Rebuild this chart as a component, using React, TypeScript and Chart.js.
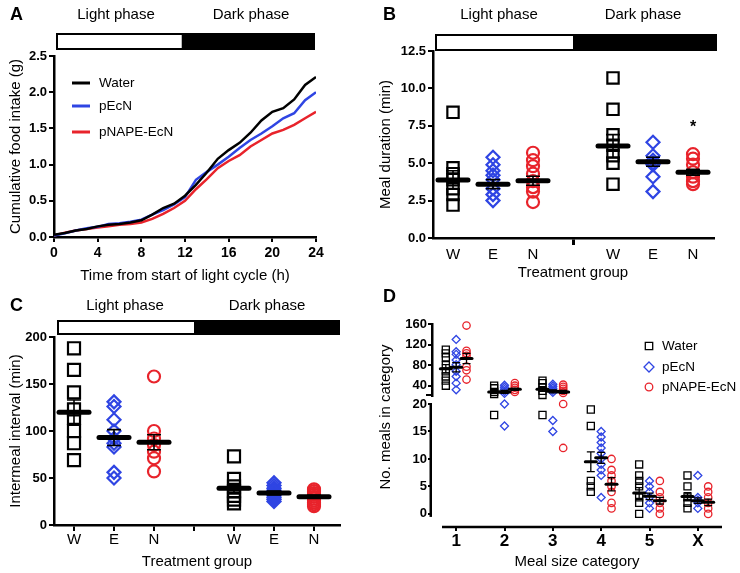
import React, { useEffect, useRef } from 'react';
import { Chart, registerables } from 'chart.js';

Chart.register(...registerables);

const FONT = "'Liberation Sans', Arial, Helvetica, sans-serif";
const BLACK = '#000000';
const BLUE = '#2f45e3';
const RED = '#e8232b';
const CLEAR = 'rgba(0,0,0,0)';

// ---------- Panel A: cumulative food intake ----------
const hours = [0, 1, 2, 3, 4, 5, 6, 7, 8, 9, 10, 11, 12, 13, 14, 15, 16, 17, 18, 19, 20, 21, 22, 23, 24];
const cumWater = [0.03, 0.055, 0.09, 0.11, 0.147, 0.17, 0.18, 0.2, 0.23, 0.31, 0.4, 0.46, 0.57, 0.72, 0.89, 1.08, 1.2, 1.3, 1.44, 1.61, 1.73, 1.78, 1.9, 2.1, 2.21];
const cumPEcN = [0.02, 0.05, 0.09, 0.12, 0.14, 0.18, 0.19, 0.21, 0.24, 0.31, 0.37, 0.45, 0.55, 0.79, 0.9, 1.0, 1.11, 1.23, 1.34, 1.43, 1.53, 1.64, 1.71, 1.89, 2.0];
const cumPNAPE = [0.02, 0.06, 0.09, 0.11, 0.13, 0.15, 0.17, 0.18, 0.2, 0.25, 0.32, 0.4, 0.5, 0.66, 0.8, 0.95, 1.05, 1.13, 1.25, 1.34, 1.43, 1.48, 1.55, 1.64, 1.73];
const seriesNames = ['Water', 'pEcN', 'pNAPE-EcN'];
const xTicksA = [0, 4, 8, 12, 16, 20, 24];
const yTicksA = [0, 0.5, 1, 1.5, 2, 2.5];
const lightEndA = 11.7;

// ---------- Panels B & C: groups ----------
const groupLabels = ['W', 'E', 'N', '', 'W', 'E', 'N'];
const groupSlots = [0, 1, 2, 4, 5, 6];

const durationLightWater = [8.4, 4.7, 4.3, 3.9, 3.3, 2.9, 2.2];
const durationLightPEcN = [5.4, 4.9, 4.5, 4.2, 3.9, 3.3, 2.9, 2.5];
const durationLightPNAPE = [5.7, 5.2, 4.8, 4.3, 3.8, 3.4, 3.1, 2.4];
const durationDarkWater = [10.7, 8.6, 6.9, 6.2, 5.5, 5.0, 3.6];
const durationDarkPEcN = [6.4, 5.5, 5.2, 5.0, 4.9, 4.1, 3.1];
const durationDarkPNAPE = [5.6, 5.3, 4.9, 4.4, 4.1, 3.8, 3.6];
const durationMean = [3.88, 3.6, 3.83, 6.15, 5.1, 4.4];
const durationSem = [0.62, 0.3, 0.3, 0.76, 0.3, 0.2];
const durationTicks = [0, 2.5, 5, 7.5, 10, 12.5];
const starValue = 7.5;

const intervalLightWater = [188, 165, 141, 123, 114, 100, 87, 69];
const intervalLightPEcN = [131, 126, 112, 100, 92, 87, 83, 56, 50];
const intervalLightPNAPE = [158, 100, 92, 85, 78, 71, 57];
const intervalDarkWater = [73, 49, 41, 36, 31, 27, 23];
const intervalDarkPEcN = [45, 42, 39, 37, 35, 33, 31, 29, 27, 25];
const intervalDarkPNAPE = [38, 36, 34, 32, 30, 28, 26, 24, 22, 20];
const intervalMean = [120, 93, 88, 39, 34, 30];
const intervalSem = [13, 8.5, 8, 5, 2, 1.5];
const intervalTicks = [0, 50, 100, 150, 200];

// ---------- Panel D: meals per size category ----------
const mealCats = ['1', '2', '3', '4', '5', 'X'];
const mealsWater = [
  [110, 103, 95, 80, 68, 58, 50, 40],
  [40, 35, 28, 24, 18],
  [50, 45, 37, 30, 22, 18],
  [19, 16, 6, 5, 4],
  [9, 7, 6, 5, 3, 2, 0],
  [7, 5, 3, 2, 1],
];
const mealsPEcN = [
  [130, 106, 101, 90, 81, 68, 58, 45, 32],
  [41, 37, 33, 29, 25, 20, 16],
  [43, 39, 35, 31, 27, 17, 15],
  [15, 14, 13, 12, 11, 10, 9, 8, 7, 3],
  [6, 5, 4, 3, 2, 1],
  [7, 3, 2.5, 2, 1],
];
const mealsPNAPE = [
  [157, 108, 103, 98, 77, 70, 52],
  [45, 40, 36, 32, 28],
  [42, 38, 34, 30, 26, 20, 12],
  [10, 8, 7, 6, 5, 4, 2, 1],
  [6, 4, 3, 2, 1, 0],
  [5, 4, 3, 2, 1, 0],
];
const mealsMeanWater = [73, 28, 33, 9.5, 3.8, 3.15];
const mealsMeanPEcN = [76, 28, 29, 10.2, 3.2, 2.4];
const mealsMeanPNAPE = [93, 33, 28, 5.4, 2.4, 2.1];
const mealsSemWater = [8, 3, 4, 1.8, 1, 0.7];
const mealsSemPEcN = [9, 3, 3, 1, 0.6, 0.5];
const mealsSemPNAPE = [10, 2, 3, 1.2, 0.6, 0.6];
const mealsBreak = 20;
const mealsTicksTop = [40, 80, 120, 160];
const mealsTicksBottom = [0, 5, 10, 15, 20];

// ---------- helpers ----------
const seriesStyle = [
  { style: 'rect', color: BLACK },
  { style: 'rectRot', color: BLUE },
  { style: 'circle', color: RED },
];

function drawText(ctx: any, s: string, x: number, y: number, size: number, weight = 'normal', align = 'center', color = BLACK) {
  ctx.save();
  ctx.font = `${weight} ${size}px ${FONT}`;
  ctx.fillStyle = color;
  ctx.textAlign = align;
  ctx.textBaseline = 'middle';
  ctx.fillText(s, x, y);
  ctx.restore();
}

function phaseBar(ctx: any, x0: number, xm: number, x1: number, y0: number, y1: number) {
  ctx.save();
  ctx.fillStyle = BLACK;
  ctx.fillRect(x0, y0, x1 - x0, y1 - y0);
  ctx.fillStyle = '#ffffff';
  ctx.fillRect(x0 + 2, y0 + 2, xm - x0 - 2, y1 - y0 - 4);
  ctx.restore();
}

function meanSem(chart: any, xs: number[], means: number[], sems: number[], halfW: number, thick: number, capW: number, lw: number, lo = -Infinity, hi = Infinity) {
  const ctx = chart.ctx;
  const xS = chart.scales.x;
  const yS = chart.scales.y;
  ctx.save();
  ctx.strokeStyle = BLACK;
  xs.forEach((xv, i) => {
    if (means[i] <= lo || means[i] > hi) return;
    const px = xS.getPixelForValue(xv);
    const py = yS.getPixelForValue(means[i]);
    const pt = yS.getPixelForValue(means[i] + sems[i]);
    const pb = yS.getPixelForValue(means[i] - sems[i]);
    ctx.lineWidth = lw;
    ctx.lineCap = 'butt';
    ctx.beginPath();
    ctx.moveTo(px, pt); ctx.lineTo(px, pb);
    ctx.moveTo(px - capW, pt); ctx.lineTo(px + capW, pt);
    ctx.moveTo(px - capW, pb); ctx.lineTo(px + capW, pb);
    ctx.stroke();
    ctx.lineWidth = thick;
    ctx.lineCap = 'round';
    ctx.beginPath();
    ctx.moveTo(px - halfW, py); ctx.lineTo(px + halfW, py);
    ctx.stroke();
  });
  ctx.restore();
}

function markerDs(data: any[], idx: number, radius: number, lw: number) {
  const st = seriesStyle[idx];
  return {
    type: 'scatter',
    data,
    showLine: false,
    clip: false,
    pointStyle: st.style,
    pointRadius: radius,
    pointHoverRadius: radius,
    borderColor: st.color,
    backgroundColor: CLEAR,
    pointBorderColor: st.color,
    pointBackgroundColor: CLEAR,
    pointBorderWidth: lw,
    pointHoverBorderWidth: lw,
  };
}

const pts = (vals: number[], x: number) => vals.map((v) => ({ x, y: v }));

function yAxis(min: number, max: number, ticks: number[], width: number, title: string | null, fmt: (v: number) => string, opts: any = {}) {
  return {
    type: 'linear',
    min,
    max,
    afterBuildTicks: (s: any) => { s.ticks = ticks.map((v) => ({ value: v })); },
    afterFit: (s: any) => { s.width = width; },
    border: { display: opts.border !== false, color: BLACK, width: 2.5 },
    grid: { display: true, drawOnChartArea: false, drawTicks: true, tickLength: opts.tickLength ?? 5, color: BLACK, lineWidth: 2 },
    ticks: { color: BLACK, font: { family: FONT, size: 13, weight: 'bold' }, padding: opts.padding ?? 2, callback: (v: number) => fmt(v) },
    title: title
      ? { display: true, text: title, color: BLACK, font: { family: FONT, size: 15 }, padding: { top: 6.5, bottom: 0 } }
      : { display: false },
  };
}

const baseOptions = (padding: any) => ({
  responsive: false,
  animation: false,
  devicePixelRatio: 1,
  events: [],
  layout: { padding },
  plugins: { legend: { display: false }, tooltip: { enabled: false }, title: { display: false } },
});

// ---------- configs ----------
function configA() {
  const series = [cumWater, cumPEcN, cumPNAPE];
  const colors = [BLACK, BLUE, RED];
  return {
    type: 'scatter',
    data: {
      datasets: series.map((s, i) => ({
        data: hours.map((h, j) => ({ x: h, y: s[j] })),
        showLine: true,
        borderColor: colors[i],
        backgroundColor: colors[i],
        borderWidth: 2.5,
        pointRadius: 0,
        tension: 0,
      })),
    },
    options: {
      ...baseOptions({ left: 0, top: 56, right: 54, bottom: 0 }),
      scales: {
        x: {
          type: 'linear', min: 0, max: 24,
          afterBuildTicks: (s: any) => { s.ticks = xTicksA.map((v) => ({ value: v })); },
          afterFit: (s: any) => { s.height = 48; },
          border: { display: true, color: BLACK, width: 2.5 },
          grid: { display: true, drawOnChartArea: false, tickLength: 5, color: BLACK, lineWidth: 2 },
          ticks: { color: BLACK, font: { family: FONT, size: 14, weight: 'bold' }, padding: 3, maxRotation: 0, autoSkip: false },
          title: { display: true, text: 'Time from start of light cycle (h)', color: BLACK, font: { family: FONT, size: 15 }, padding: { top: 0, bottom: 0 } },
        },
        y: yAxis(0, 2.5, yTicksA, 54, 'Cumulative food intake (g)', (v) => Number(v).toFixed(1)),
      },
    },
    plugins: [{
      id: 'decorA',
      afterDraw(chart: any) {
        const ctx = chart.ctx;
        const { left, right, top } = chart.chartArea;
        phaseBar(ctx, left + 2, chart.scales.x.getPixelForValue(lightEndA), right - 1, top - 23, top - 6);
        drawText(ctx, 'A', 10, 15, 18, 'bold', 'left');
        drawText(ctx, 'Light phase', 116, 15, 15);
        drawText(ctx, 'Dark phase', 251, 15, 15);
        const ys = [83, 106, 132];
        seriesNames.forEach((n, i) => {
          ctx.save();
          ctx.strokeStyle = colors[i];
          ctx.lineWidth = 3;
          ctx.beginPath(); ctx.moveTo(72, ys[i]); ctx.lineTo(90, ys[i]); ctx.stroke();
          ctx.restore();
          drawText(ctx, n, 99, ys[i], 13.5, 'normal', 'left');
        });
      },
    }],
  };
}

function groupXAxis(min: number, max: number, height: number, tickColor: (i: number) => string, tickLength: number, tickWidth: number, padBottom: number, tickPad: number) {
  return {
    type: 'linear', min, max,
    afterBuildTicks: (s: any) => { s.ticks = groupLabels.map((_, i) => ({ value: i })); },
    afterFit: (s: any) => { s.height = height; },
    border: { display: true, color: BLACK, width: 2.5 },
    grid: { display: true, drawOnChartArea: false, tickLength, lineWidth: tickWidth, color: (c: any) => tickColor(c.index) },
    ticks: { color: BLACK, font: { family: FONT, size: 15 }, padding: tickPad, maxRotation: 0, autoSkip: false, callback: (v: number) => groupLabels[Math.round(v)] ?? '' },
    title: { display: true, text: 'Treatment group', color: BLACK, font: { family: FONT, size: 15 }, padding: { top: 0, bottom: padBottom } },
  };
}

function groupDatasets(groups: number[][], radii: number[], lw: number) {
  return groups.map((vals, g) => markerDs(pts(vals, groupSlots[g]), g % 3, radii[g % 3], lw));
}

function configB() {
  const groups = [durationLightWater, durationLightPEcN, durationLightPNAPE, durationDarkWater, durationDarkPEcN, durationDarkPNAPE];
  return {
    type: 'scatter',
    data: { datasets: groupDatasets(groups, [8, 6.5, 6], 2.2) },
    options: {
      ...baseOptions({ left: 0, top: 51, right: 27, bottom: 0 }),
      scales: {
        x: groupXAxis(-0.5, 6.5, 47, (i) => (i === 3 ? BLACK : CLEAR), 7, 3, 3, 1),
        y: yAxis(0, 12.5, durationTicks, 63, 'Meal duration (min)', (v) => Number(v).toFixed(1)),
      },
    },
    plugins: [{
      id: 'decorB',
      afterDraw(chart: any) {
        const ctx = chart.ctx;
        const { left, right, top } = chart.chartArea;
        phaseBar(ctx, left + 2, chart.scales.x.getPixelForValue(3), right + 4, top - 17, top);
        drawText(ctx, 'B', 13, 15, 18, 'bold', 'left');
        drawText(ctx, 'Light phase', 129, 15, 15);
        drawText(ctx, 'Dark phase', 273, 15, 15);
        meanSem(chart, groupSlots, durationMean, durationSem, 15, 5, 7, 1.6);
        drawText(ctx, '*', chart.scales.x.getPixelForValue(6), chart.scales.y.getPixelForValue(starValue) + 2, 16, 'bold');
      },
    }],
  };
}

function configC() {
  const groups = [intervalLightWater, intervalLightPEcN, intervalLightPNAPE, intervalDarkWater, intervalDarkPEcN, intervalDarkPNAPE];
  return {
    type: 'scatter',
    data: { datasets: groupDatasets(groups, [8.5, 6.5, 6], 2.2) },
    options: {
      ...baseOptions({ left: 0, top: 52, right: 30, bottom: 0 }),
      scales: {
        x: groupXAxis(-0.5, 6.65, 48, () => BLACK, 6, 2, 2, 0),
        y: yAxis(0, 200, intervalTicks, 54, 'Intermeal interval (min)', (v) => String(v)),
      },
    },
    plugins: [{
      id: 'decorC',
      afterDraw(chart: any) {
        const ctx = chart.ctx;
        const { left, right, top } = chart.chartArea;
        phaseBar(ctx, left + 3, chart.scales.x.getPixelForValue(3), right, top - 17, top - 2);
        drawText(ctx, 'C', 10, 21, 18, 'bold', 'left');
        drawText(ctx, 'Light phase', 125, 21, 15);
        drawText(ctx, 'Dark phase', 267, 21, 15);
        meanSem(chart, groupSlots, intervalMean, intervalSem, 15, 5, 7, 1.6);
      },
    }],
  };
}

const dSeries = [
  { vals: mealsWater, mean: mealsMeanWater, sem: mealsSemWater, off: -0.214 },
  { vals: mealsPEcN, mean: mealsMeanPEcN, sem: mealsSemPEcN, off: 0 },
  { vals: mealsPNAPE, mean: mealsMeanPNAPE, sem: mealsSemPNAPE, off: 0.214 },
];
const dRadii = [5, 4, 3.7];

function dDatasets(top: boolean) {
  return dSeries.map((s, si) => {
    const data: any[] = [];
    s.vals.forEach((arr, ci) => arr.forEach((v) => {
      if (top ? v > mealsBreak : v <= mealsBreak) data.push({ x: ci + 1 + s.off, y: v });
    }));
    return markerDs(data, si, dRadii[si], 1.3);
  });
}

function dMeans(chart: any, top: boolean) {
  dSeries.forEach((s) => {
    const xs = s.mean.map((_, ci) => ci + 1 + s.off);
    meanSem(chart, xs, s.mean, s.sem, 5.5, 3, 4, 1.3, top ? mealsBreak : -Infinity, top ? Infinity : mealsBreak);
  });
}

function configDTop() {
  return {
    type: 'scatter',
    data: { datasets: dDatasets(true) },
    options: {
      ...baseOptions({ left: 0, top: 39, right: 18, bottom: 177 }),
      scales: {
        x: { type: 'linear', min: 0.5, max: 6.5, display: false },
        y: yAxis(mealsBreak, 160, mealsTicksTop, 62, null, (v) => String(v), { tickLength: 4, padding: 1 }),
      },
    },
    plugins: [{
      id: 'decorDTop',
      afterDraw(chart: any) {
        const ctx = chart.ctx;
        const { left, bottom } = chart.chartArea;
        drawText(ctx, 'D', 13, 12, 18, 'bold', 'left');
        ctx.save();
        ctx.strokeStyle = BLACK; ctx.lineWidth = 2;
        ctx.beginPath(); ctx.moveTo(left - 6, bottom - 1); ctx.lineTo(left, bottom - 1); ctx.stroke();
        ctx.restore();
        dMeans(chart, true);
        // legend
        const ys = [61, 82, 102];
        ys.forEach((y, i) => {
          ctx.save();
          ctx.strokeStyle = seriesStyle[i].color;
          ctx.lineWidth = 1.3;
          ctx.beginPath();
          if (i === 0) ctx.rect(279 - 3.7, y - 3.7, 7.4, 7.4);
          else if (i === 1) { ctx.moveTo(279, y - 5); ctx.lineTo(284, y); ctx.lineTo(279, y + 5); ctx.lineTo(274, y); ctx.closePath(); }
          else ctx.arc(279, y, 3.8, 0, Math.PI * 2);
          ctx.stroke();
          ctx.restore();
          drawText(ctx, seriesNames[i], 292, y, 13.5, 'normal', 'left');
        });
      },
    }],
  };
}

function configDBottom() {
  return {
    type: 'scatter',
    data: { datasets: dDatasets(false) },
    options: {
      ...baseOptions({ left: 0, top: 119, right: 18, bottom: 0 }),
      scales: {
        x: {
          type: 'linear', min: 0.5, max: 6.5,
          afterBuildTicks: (s: any) => { s.ticks = mealCats.map((_, i) => ({ value: i + 1 })); },
          afterFit: (s: any) => { s.height = 47; },
          border: { display: false },
          grid: { display: true, drawOnChartArea: false, tickLength: 5, color: BLACK, lineWidth: 2 },
          ticks: { color: BLACK, font: { family: FONT, size: 17, weight: 'bold' }, padding: 0, maxRotation: 0, autoSkip: false, callback: (v: number) => mealCats[Math.round(v) - 1] ?? '' },
          title: { display: true, text: 'Meal size category', color: BLACK, font: { family: FONT, size: 15 }, padding: { top: 0, bottom: 2 } },
        },
        y: yAxis(-2.2, mealsBreak, mealsTicksBottom, 62, null, (v) => String(v), { tickLength: 4, padding: 1, border: false }),
      },
    },
    plugins: [{
      id: 'decorDBottom',
      afterDraw(chart: any) {
        const ctx = chart.ctx;
        const { left, right, top, bottom } = chart.chartArea;
        const y0 = chart.scales.y.getPixelForValue(0);
        ctx.save();
        ctx.strokeStyle = BLACK;
        ctx.lineWidth = 2.5;
        ctx.beginPath(); ctx.moveTo(left - 1.25, top - 1); ctx.lineTo(left - 1.25, y0 + 3); ctx.stroke();
        ctx.beginPath(); ctx.moveTo(left + 10, bottom + 1); ctx.lineTo(right, bottom + 1); ctx.stroke();
        ctx.translate(15.5, 132);
        ctx.rotate(-Math.PI / 2);
        ctx.font = `normal 15px ${FONT}`;
        ctx.fillStyle = BLACK;
        ctx.textAlign = 'center';
        ctx.textBaseline = 'middle';
        ctx.fillText('No. meals in category', 0, 0);
        ctx.restore();
        dMeans(chart, false);
      },
    }],
  };
}

export default function App() {
  const aRef = useRef<HTMLCanvasElement>(null);
  const bRef = useRef<HTMLCanvasElement>(null);
  const cRef = useRef<HTMLCanvasElement>(null);
  const dTopRef = useRef<HTMLCanvasElement>(null);
  const dBotRef = useRef<HTMLCanvasElement>(null);

  useEffect(() => {
    const charts = [
      new Chart(aRef.current as any, configA() as any),
      new Chart(bRef.current as any, configB() as any),
      new Chart(cRef.current as any, configC() as any),
      new Chart(dBotRef.current as any, configDBottom() as any),
      new Chart(dTopRef.current as any, configDTop() as any),
    ];
    return () => charts.forEach((c) => c.destroy());
  }, []);

  const cv = (ref: any, left: number, top: number, w: number, h: number) => (
    <canvas ref={ref} width={w} height={h} style={{ position: 'absolute', left, top, width: w, height: h }} />
  );

  return (
    <div style={{ position: 'absolute', left: 0, top: 0, width: 740, height: 573, background: '#ffffff', overflow: 'hidden' }}>
      {cv(aRef, 0, 0, 370, 285)}
      {cv(bRef, 370, 0, 370, 285)}
      {cv(cRef, 0, 285, 370, 288)}
      {cv(dBotRef, 370, 285, 370, 288)}
      {cv(dTopRef, 370, 285, 370, 288)}
    </div>
  );
}
